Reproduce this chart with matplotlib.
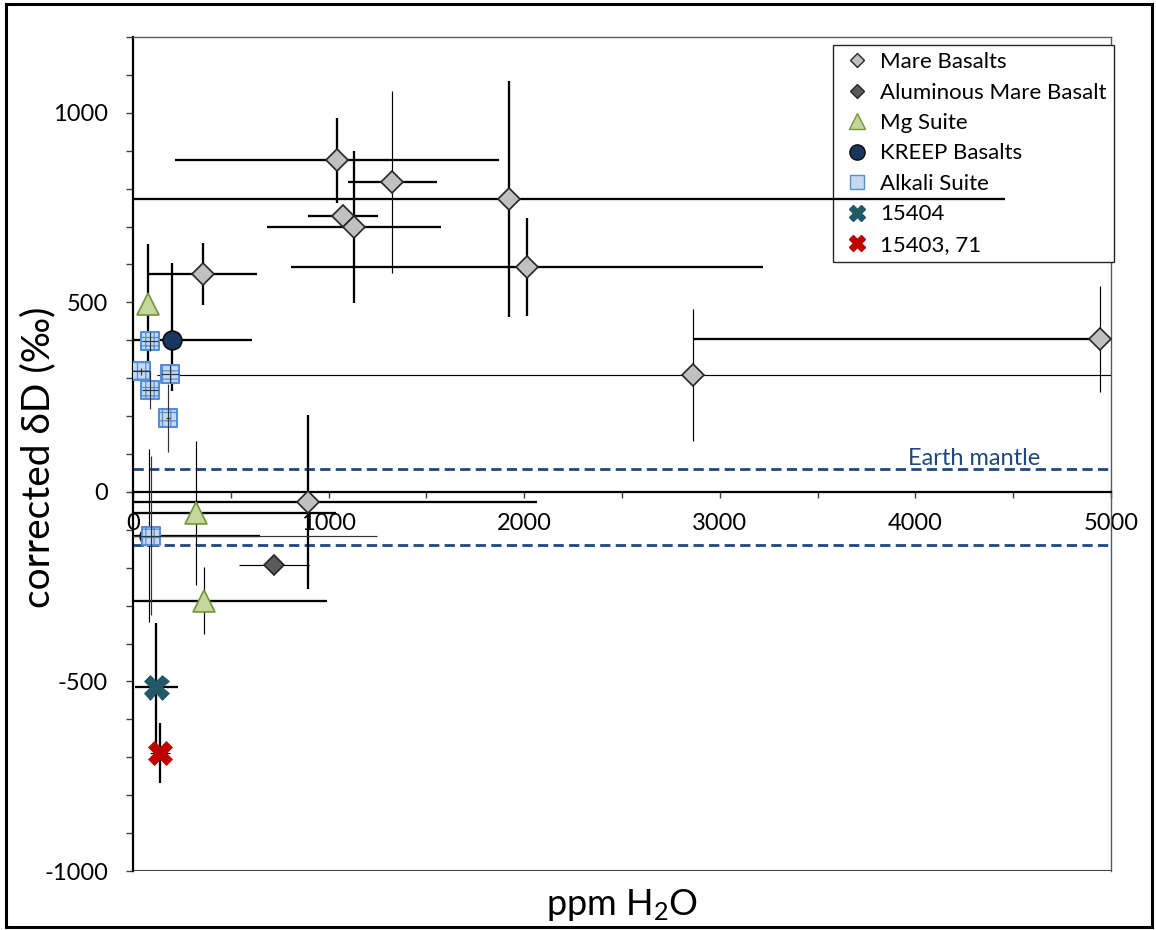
import matplotlib.pyplot as plt
from matplotlib.lines import Line2D
from matplotlib.patches import Rectangle
from matplotlib.ticker import MultipleLocator

plt.rcParams['font.family'] = ['Lato', 'DejaVu Sans']
plt.rcParams['mathtext.default'] = 'regular'
plt.rcParams['axes.unicode_minus'] = False
plt.rcParams['hatch.color'] = '#8DB3E2'
plt.rcParams['hatch.linewidth'] = 0.9

# Mare basalts
mare_x = [1043, 1326, 1921, 1075, 1130, 2014, 356, 2863, 4944, 895]
mare_y = [875, 817, 772, 728, 698, 593, 574, 308, 403, -26]
mare_xerr = [830, 228, 2537, 180, 443, 1206, 278, 2740, 2080, 1168]
mare_yerr = [112, 240, 311, 0, 200, 130, 82, 174, 139, 230]

# Aluminous mare basalt
alum_x = [719]
alum_y = [-193]
alum_xerr = [179]
alum_yerr = [0]

# Mg suite
mg_x = [78, 322, 365]
mg_y = [497, -55, -287]
mg_xerr = [0, 716, 625]
mg_yerr = [157, 190, 88]

# KREEP basalts (asymmetric y errors)
kreep_x = [199, 82]
kreep_y = [400, -116]
kreep_xerr = [408, 567]
kreep_yerr_lo = [135, 228]
kreep_yerr_hi = [205, 228]

# Alkali suite
alk_x = [87, 42, 87, 189, 180, 92]
alk_y = [397, 318, 268, 311, 195, -116]
alk_xerr = [40, 45, 40, 45, 10, 1153]
alk_yerr = [25, 10, 50, 25, 90, 210]

# 15404
s15404_x = [118]
s15404_y = [-515]
s15404_xerr = [110]
s15404_yerr = [170]

# 15403, 71
s15403_x = [138]
s15403_y = [-689]
s15403_xerr = [53]
s15403_yerr = [80]

earth_mantle = [60, -140]

# which error bars are drawn heavy (1) or thin (0)
mare_xheavy = [1, 1, 1, 1, 1, 1, 1, 0, 1, 1]
mare_yheavy = [1, 0, 1, 1, 1, 1, 1, 0, 0, 1]

THICK = 1.65
THIN = 0.85

fig = plt.figure(figsize=(11.56, 9.30), dpi=100)
ax = fig.add_axes([133/1156, 59/930, 978/1156, 834/930])
ax.set_xlim(0, 5000)
ax.set_ylim(-1000, 1200)


def bars(x, y, xerr, ylo, yhi, xlw, ylw, z=3, color='black'):
    for i in range(len(x)):
        if xerr[i] > 0:
            ax.errorbar(x[i], y[i], xerr=xerr[i], fmt='none', ecolor=color,
                        elinewidth=xlw[i], capsize=0, zorder=z)
        if ylo[i] > 0 or yhi[i] > 0:
            ax.errorbar(x[i], y[i], yerr=[[ylo[i]], [yhi[i]]], fmt='none',
                        ecolor=color, elinewidth=ylw[i], capsize=0, zorder=z)


def w(flags):
    return [THICK if f else THIN for f in flags]


bars(mare_x, mare_y, mare_xerr, mare_yerr, mare_yerr, w(mare_xheavy), w(mare_yheavy))
bars(alum_x, alum_y, alum_xerr, alum_yerr, alum_yerr, [THIN], [THIN])
bars(mg_x, mg_y, mg_xerr, mg_yerr, mg_yerr, w([1, 1, 1]), w([1, 0, 0]))
bars(kreep_x, kreep_y, kreep_xerr, kreep_yerr_lo, kreep_yerr_hi, w([1, 1]), w([1, 0]))
bars(s15404_x, s15404_y, s15404_xerr, s15404_yerr, s15404_yerr, [THICK], [THICK])
bars(s15403_x, s15403_y, s15403_xerr, s15403_yerr, s15403_yerr, [THIN], [THICK])

# markers
ax.plot(mare_x, mare_y, 'D', ms=11.5, mfc='#C0C0C0', mec='#262626', mew=1.2, zorder=4)
ax.plot(alum_x, alum_y, 'D', ms=10.5, mfc='#595959', mec='#262626', mew=1.2, zorder=4)
ax.plot(mg_x, mg_y, '^', ms=16.5, mfc='#C3D69B', mec='#77933C', mew=1.2, zorder=4)
ax.plot(kreep_x, kreep_y, 'o', ms=13.5, mfc='#17375E', mec='#0D0D0D', mew=1.2, zorder=4)
ax.scatter(alk_x, alk_y, marker='s', s=170, facecolor='#C6D9F1', edgecolor='#558ED5',
           linewidth=1.5, hatch='++', zorder=4)
bars(alk_x, alk_y, alk_xerr, alk_yerr, alk_yerr, [THIN] * 6, [THIN] * 6, z=4.5, color='#333333')
ax.plot(s15404_x, s15404_y, 'X', ms=18, mfc='#215968', mec='#215968', mew=0.5, zorder=5)
ax.plot(s15403_x, s15403_y, 'X', ms=17, mfc='#C00000', mec='#C00000', mew=0.5, zorder=5)

# Earth mantle range
for yv in earth_mantle:
    ax.axhline(yv, color='#1F497D', lw=2, ls=(0, (3.7, 1.9)), zorder=2)
ax.text(3960, 72, 'Earth mantle', color='#1F497D', fontsize=17, va='baseline')

# axes styling
ax.spines['left'].set_linewidth(1.6)
ax.spines['bottom'].set_position(('data', 0))
ax.spines['bottom'].set_linewidth(1.6)
for s in ['top', 'right']:
    ax.spines[s].set_color('#595959')
    ax.spines[s].set_linewidth(1.0)
ax.axhline(-1000, color='#404040', lw=1.5, zorder=2)

ax.yaxis.set_major_locator(MultipleLocator(500))
ax.yaxis.set_minor_locator(MultipleLocator(100))
ax.xaxis.set_major_locator(MultipleLocator(1000))
ax.xaxis.set_minor_locator(MultipleLocator(500))
ax.tick_params(axis='y', which='both', direction='out', length=5, width=1,
               color='#404040', labelsize=17, pad=13)
ax.tick_params(axis='x', which='both', direction='out', length=4.5, width=1,
               color='#404040', labelsize=17, pad=11)

fig.text(38/1156, 1 - 457/930, 'corrected δD (‰)', rotation=90, ha='center',
         va='center', fontsize=28)
fig.text(622/1156, 1 - 905/930, 'ppm H$_2$O', ha='center', va='center', fontsize=26)

# legend
handles = [
    Line2D([], [], ls='none', marker='D', ms=7, mfc='#C0C0C0', mec='#262626', mew=1),
    Line2D([], [], ls='none', marker='D', ms=7, mfc='#595959', mec='#262626', mew=1),
    Line2D([], [], ls='none', marker='^', ms=11, mfc='#C3D69B', mec='#77933C', mew=1),
    Line2D([], [], ls='none', marker='o', ms=11, mfc='#17375E', mec='#0D0D0D', mew=1),
    Line2D([], [], ls='none', marker='s', ms=10, mfc='#C6D9F1', mec='#558ED5', mew=1),
    Line2D([], [], ls='none', marker='X', ms=12, mfc='#215968', mec='#215968'),
    Line2D([], [], ls='none', marker='X', ms=12, mfc='#C00000', mec='#C00000'),
]
labels = ['Mare Basalts', 'Aluminous Mare Basalt', 'Mg Suite', 'KREEP Basalts',
          'Alkali Suite', '15404', '15403, 71']
leg = ax.legend(handles, labels, loc='upper right', bbox_to_anchor=(1114/1156, 1 - 45/930),
                bbox_transform=fig.transFigure, fontsize=16, frameon=True, fancybox=False,
                edgecolor='#262626', framealpha=1, borderpad=0.32, labelspacing=0.47,
                handlelength=1.5, handletextpad=0.3, borderaxespad=0)
leg.get_frame().set_linewidth(1.0)
leg.set_zorder(2.5)

# chart border
fig.patches.append(Rectangle((6/1156, 1 - 927/930), 1146/1156, 923/930,
                             transform=fig.transFigure, fill=False, lw=2.2,
                             edgecolor='black'))

fig.savefig('out.png', dpi=100)
